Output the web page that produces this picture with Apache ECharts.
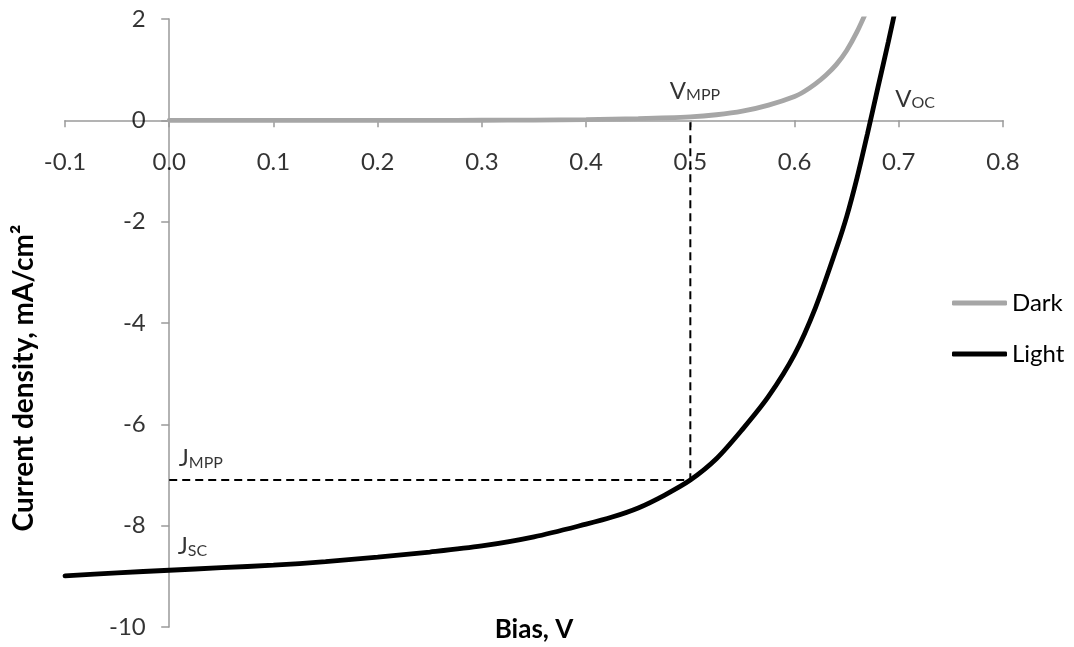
<!DOCTYPE html>
<html>
<head>
<meta charset="utf-8">
<script src="https://cdn.jsdelivr.net/npm/echarts@6/dist/echarts.min.js"></script>
<style>
html,body{margin:0;padding:0;background:#fff;}
#chart{width:1074px;height:647px;}
</style>
</head>
<body>
<div id="chart"></div>
<script>
// ---- data ----
const darkBias = [0, 0.05, 0.1, 0.15, 0.2, 0.25, 0.3, 0.35, 0.4, 0.45, 0.5, 0.525, 0.55, 0.575, 0.6, 0.61, 0.62, 0.63, 0.64, 0.65, 0.66, 0.67];
const darkJ    = [0, 0, 0, 0, 0, 0, 0.002, 0.006, 0.015, 0.035, 0.07, 0.11, 0.18, 0.30, 0.47, 0.58, 0.72, 0.89, 1.10, 1.38, 1.75, 2.2];
const lightBias = [-0.1, -0.05, 0, 0.05, 0.1, 0.15, 0.2, 0.25, 0.3, 0.35, 0.4, 0.425, 0.45, 0.475, 0.5, 0.525, 0.55, 0.575, 0.6, 0.62, 0.64, 0.65, 0.66, 0.67, 0.68, 0.69, 0.70];
const lightJ    = [-8.99, -8.93, -8.88, -8.83, -8.78, -8.71, -8.62, -8.52, -8.40, -8.22, -7.97, -7.83, -7.65, -7.40, -7.10, -6.68, -6.10, -5.45, -4.62, -3.70, -2.54, -1.90, -1.13, -0.26, 0.65, 1.55, 2.5];
const mppV = 0.5;
const mppJ = -7.1;
const vOC = 0.675;
const jSC = -8.88;
const xTickVals = [-0.1, 0, 0.1, 0.2, 0.3, 0.4, 0.5, 0.6, 0.7, 0.8];
const xTickLabels = ['-0.1', '0.0', '0.1', '0.2', '0.3', '0.4', '0.5', '0.6', '0.7', '0.8'];
const yTickVals = [-10, -8, -6, -4, -2, 0, 2];
const yTickLabels = ['-10', '-8', '-6', '-4', '-2', '0', '2'];
const xRange = {min: -0.1, max: 0.8, interval: 0.1};
const yRange = {min: -10, max: 2, interval: 2};
const seriesNames = ['Dark', 'Light'];
const xTitle = 'Bias, V';
const yTitle = 'Current density, mA/cm²';

const FONT = 'Lato';
const zip = (a, b) => a.map((v, i) => [v, b[i]]);

const chart = echarts.init(document.getElementById('chart'), null, {renderer: 'canvas'});

const richStyle = {
  v: {fontSize: 24, fontFamily: FONT, color: '#000', lineHeight: 28, verticalAlign: 'bottom'},
  s: {fontSize: 16, fontFamily: FONT, color: '#000', lineHeight: 8, verticalAlign: 'bottom'}
};
function annot(x, y, main, sub, dx, dy) {
  return {
    value: [x, y],
    label: {
      show: true,
      formatter: '{v|' + main + '}{s|' + sub + '}',
      position: [dx, dy],
      align: 'left',
      verticalAlign: 'top',
      rich: richStyle
    }
  };
}
const tickTextStyle = {show: true, color: '#000', fontFamily: FONT, fontSize: 24, lineHeight: 28};

const option = {
  animation: false,
  backgroundColor: '#fff',
  grid: {left: 65, right: 71, top: 19, bottom: 20, containLabel: false, outerBoundsMode: 'none'},
  legend: {
    data: seriesNames,
    orient: 'vertical',
    left: 947,
    top: 284,
    icon: 'roundRect',
    itemWidth: 55,
    itemHeight: 5,
    itemGap: 23,
    textStyle: {fontFamily: FONT, fontSize: 24, color: '#000', lineHeight: 28}
  },
  xAxis: {
    type: 'value',
    min: xRange.min, max: xRange.max, interval: xRange.interval,
    axisLine: {onZero: true, lineStyle: {color: '#9a9a9a', width: 1.5}},
    axisTick: {show: true, inside: false, length: 7, lineStyle: {color: '#9a9a9a', width: 1.5}},
    axisLabel: {show: false},
    splitLine: {show: false}
  },
  yAxis: {
    type: 'value',
    min: yRange.min, max: yRange.max, interval: yRange.interval,
    axisLine: {onZero: true, lineStyle: {color: '#9a9a9a', width: 1.5}},
    axisTick: {show: true, inside: false, length: 8, lineStyle: {color: '#9a9a9a', width: 1.5}},
    axisLabel: {show: false},
    splitLine: {show: false}
  },
  graphic: [
    {type: 'text', x: 534, y: 630, style: {text: xTitle, font: 'bold 26px ' + FONT, fill: '#000', align: 'center', verticalAlign: 'middle'}},
    {type: 'text', x: 24, y: 378, rotation: Math.PI / 2, style: {text: yTitle, font: 'bold 28px ' + FONT, fill: '#000', align: 'center', verticalAlign: 'middle'}}
  ],
  series: [
    {
      name: 'MPP',
      type: 'line',
      data: [[0, mppJ], [mppV, mppJ], [mppV, 0]],
      symbol: 'none',
      silent: true,
      z: 1,
      lineStyle: {color: '#000', width: 2, type: [8, 5]}
    },
    {
      name: seriesNames[0],
      type: 'line',
      data: zip(darkBias, darkJ),
      symbol: 'none',
      smooth: 0.3,
      clip: true,
      z: 3,
      itemStyle: {color: '#a6a6a6'},
      lineStyle: {color: '#a6a6a6', width: 4.8, cap: 'round'}
    },
    {
      name: seriesNames[1],
      type: 'line',
      data: zip(lightBias, lightJ),
      symbol: 'none',
      smooth: 0.3,
      clip: true,
      z: 4,
      itemStyle: {color: '#000'},
      lineStyle: {color: '#000', width: 4.8, cap: 'round'}
    },
    {
      name: 'xTicks',
      type: 'scatter',
      symbolSize: 1,
      silent: true,
      clip: false,
      z: 5,
      itemStyle: {color: 'rgba(0,0,0,0)'},
      label: Object.assign({position: 'bottom', distance: 27, formatter: p => xTickLabels[p.dataIndex]}, tickTextStyle),
      data: xTickVals.map(v => [v, 0])
    },
    {
      name: 'yTicks',
      type: 'scatter',
      symbolSize: 1,
      silent: true,
      clip: false,
      z: 5,
      itemStyle: {color: 'rgba(0,0,0,0)'},
      label: Object.assign({position: 'left', distance: 23, formatter: p => yTickLabels[p.dataIndex]}, tickTextStyle),
      data: yTickVals.map(v => [0, v])
    },
    {
      name: 'labels',
      type: 'scatter',
      symbolSize: 1,
      silent: true,
      clip: false,
      z: 5,
      itemStyle: {color: 'rgba(0,0,0,0)'},
      data: [
        annot(mppV, 0, 'V', 'MPP', -20, -45),
        annot(vOC, 0, 'V', 'OC', 23, -37),
        annot(0, mppJ, 'J', 'MPP', 10, -37),
        annot(0, jSC, 'J', 'SC', 9, -39)
      ]
    }
  ]
};
chart.setOption(option);
</script>
</body>
</html>
